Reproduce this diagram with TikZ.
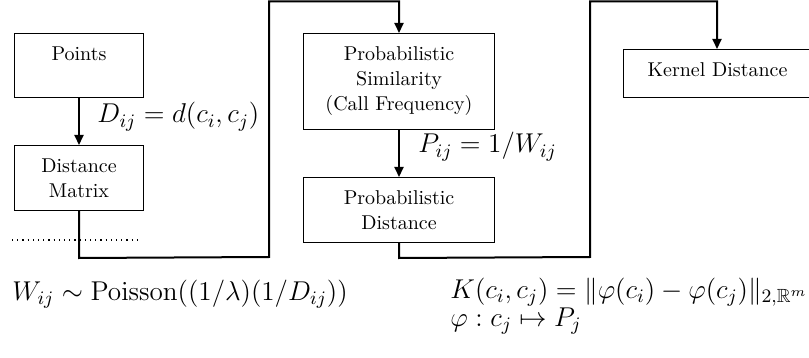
\RequirePackage{fix-cm}
\documentclass[tikz,border=0pt]{standalone}
\usepackage{amsmath,amssymb}
\usetikzlibrary{arrows.meta}
\newcommand\boxtxt[3]{\parbox[c][#2][t]{#1}{\centering\rmfamily\fontsize{10}{12.5}\selectfont\rule{0pt}{13.5pt}#3\par}}
\tikzset{
  flowbox/.style={draw, line width=0.5pt, rectangle, inner sep=0pt, anchor=north west},
  arr/.style={line width=1pt, -{Triangle[length=5pt,width=4.5pt]}},
  fml/.style={anchor=base west, inner sep=0pt, font=\fontsize{13.6}{16}\selectfont},
}
\begin{document}
\begin{tikzpicture}[x=0.5pt,y=-0.5pt]
\useasboundingbox (0,0) rectangle (809,358);
\clip (0,0) rectangle (809,358);
% boxes
\node[flowbox] (pts) at (14,33) {\boxtxt{64.5pt}{32pt}{Points}};
\node[flowbox] (dm) at (14,145) {\boxtxt{64.5pt}{32.5pt}{Distance\\Matrix}};
\node[flowbox] (ps) at (303,33) {\boxtxt{95.5pt}{48pt}{Probabilistic\\Similarity\\(Call Frequency)}};
\node[flowbox] (pd) at (303,177) {\boxtxt{95.5pt}{32.5pt}{Probabilistic\\Distance}};
\node[flowbox] (kd) at (623,49) {\boxtxt{100pt}{24pt}{Kernel Distance\hspace*{6pt}}};
% connectors
\draw[arr] (pts.south) -- (dm.north);
\draw[arr] (ps.south) -- (pd.north);
\coordinate (c1a) at ([yshift=-23.5pt]dm.south);
\coordinate (c1b) at (269,257);
\coordinate (c1c) at (269,1.5);
\coordinate (c1d) at (ps.north |- c1c);
\draw[arr] (dm.south) -- (c1a) -- (c1b) -- (c1c) -- (c1d) -- (ps.north);
\coordinate (c2a) at (pd.south |- c1a);
\coordinate (c2b) at (590,257);
\coordinate (c2c) at (590,1.5);
\coordinate (c2d) at (717,1.5);
\draw[arr] (pd.south) -- (c2a) -- (c2b) -- (c2c) -- (c2d) -- (c2d |- kd.north);
% dotted line
\coordinate (dl1) at (12,240);
\coordinate (dl2) at (141,240);
\draw[line width=0.6pt, dotted] (dl1) -- (dl2);
% formulas
\node[fml] (fd) at (97,123) {$D_{ij} = d(c_i,c_j)$};
\node[fml] (fp) at (418,153) {$P_{ij} = 1/W_{ij}$};
\node[fml] (fw) at (12,300) {$W_{ij} \sim \mathrm{Poisson}((1/\lambda)(1/D_{ij}))$};
\node[fml] (fk) at (450,298) {$K(c_i,c_j) = \|\varphi(c_i) - \varphi(c_j)\|_{2,\mathbb{R}^m}$};
\node[fml] (fphi) at (450,326) {$\varphi : c_j \mapsto P_j$};
\end{tikzpicture}
\end{document}
